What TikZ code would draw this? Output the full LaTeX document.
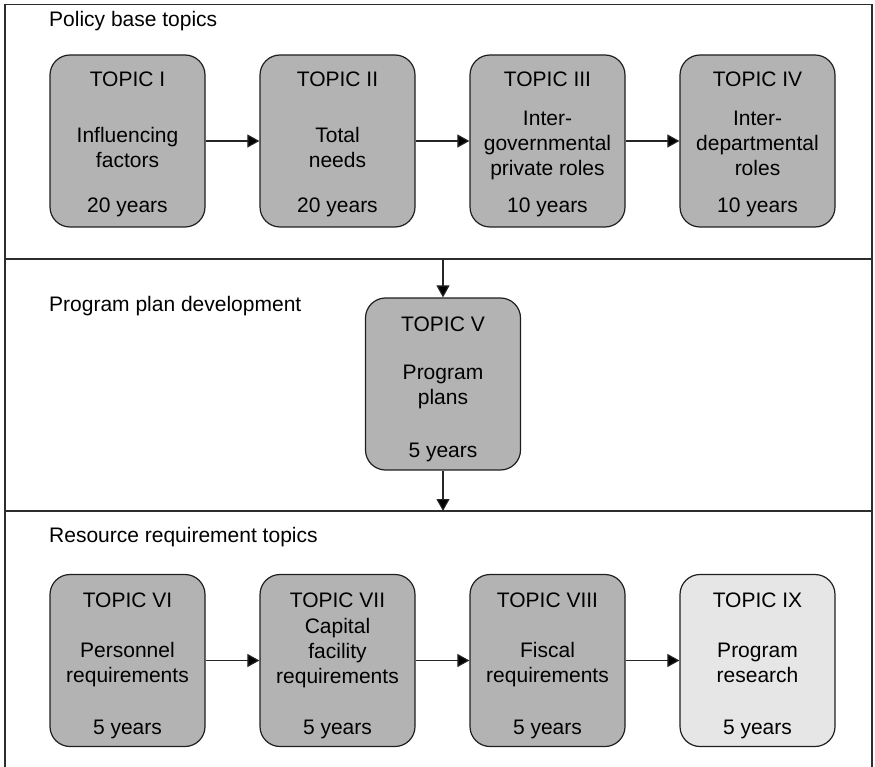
\documentclass[tikz,border=0pt]{standalone}
\usepackage{fontspec}
\setmainfont{Liberation Sans}
\usetikzlibrary{arrows.meta}
\definecolor{boxgray}{RGB}{179,179,179}
\definecolor{lightgray}{RGB}{230,230,230}
\definecolor{framec}{RGB}{45,45,45}
\begin{document}
\begin{tikzpicture}[x=1pt,y=-1pt,
  topicbox/.style={draw=black!88,line width=1.2pt,fill=boxgray,rounded corners=20pt,minimum width=155pt,minimum height=172pt,inner sep=0pt},
  ltopicbox/.style={topicbox,fill=lightgray},
  txt/.style={font=\fontsize{21}{25}\selectfont,inner sep=0pt,align=center},
  conn/.style={line width=1.1pt,draw=black!85,-{Triangle[length=12pt,width=13pt,fill=black]}},
  frameline/.style={draw=framec,line width=1.5pt}
]
\useasboundingbox (0,0) rectangle (875,767);
% frame
\draw[frameline] (5,767) -- (5,4.5) -- (872,4.5) -- (872,767);
\draw[frameline] (5,259) -- (872,259);
\draw[frameline] (5,511) -- (872,511);
% section labels
\node[txt,anchor=base west] (l1) at (49,27) {Policy base topics};
\node[txt,anchor=base west] (l2) at (49,312) {Program plan development};
\node[txt,anchor=base west] (l3) at (49,542) {Resource requirement topics};
% top row
\node[topicbox] (b1) at (127.5,141) {};
\node[txt,anchor=base] (b1t) at (127.5,87) {TOPIC I};
\node[txt] (b1m) at (127.5,147) {Influencing\\factors};
\node[txt,anchor=base] (b1y) at (127.5,213) {20 years};
\node[topicbox] (b2) at (337.5,141) {};
\node[txt,anchor=base] (b2t) at (337.5,87) {TOPIC II};
\node[txt] (b2m) at (337.5,147) {Total\\needs};
\node[txt,anchor=base] (b2y) at (337.5,213) {20 years};
\node[topicbox] (b3) at (547.5,141) {};
\node[txt,anchor=base] (b3t) at (547.5,87) {TOPIC III};
\node[txt] (b3m) at (547.5,145) {Inter-\\governmental\\private roles};
\node[txt,anchor=base] (b3y) at (547.5,213) {10 years};
\node[topicbox] (b4) at (757.5,141) {};
\node[txt,anchor=base] (b4t) at (757.5,87) {TOPIC IV};
\node[txt] (b4m) at (757.5,143) {Inter-\\departmental\\roles};
\node[txt,anchor=base] (b4y) at (757.5,213) {10 years};
% middle
\node[topicbox] (b5) at (443,384) {};
\node[txt,anchor=base] (b5t) at (443,331) {TOPIC V};
\node[txt] (b5m) at (443,387) {Program\\plans};
\node[txt,anchor=base] (b5y) at (443,457) {5 years};
% bottom row
\node[topicbox] (b6) at (127.5,660.5) {};
\node[txt,anchor=base] (b6t) at (127.5,607) {TOPIC VI};
\node[txt] (b6m) at (127.5,665) {Personnel\\requirements};
\node[txt,anchor=base] (b6y) at (127.5,734) {5 years};
\node[topicbox] (b7) at (337.5,660.5) {};
\node[txt,anchor=base] (b7t) at (337.5,607) {TOPIC VII};
\node[txt] (b7m) at (337.5,653) {Capital\\facility\\requirements};
\node[txt,anchor=base] (b7y) at (337.5,734) {5 years};
\node[topicbox] (b8) at (547.5,660.5) {};
\node[txt,anchor=base] (b8t) at (547.5,607) {TOPIC VIII};
\node[txt] (b8m) at (547.5,665) {Fiscal\\requirements};
\node[txt,anchor=base] (b8y) at (547.5,734) {5 years};
\node[ltopicbox] (b9) at (757.5,660.5) {};
\node[txt,anchor=base] (b9t) at (757.5,607) {TOPIC IX};
\node[txt] (b9m) at (757.5,663) {Program\\research};
\node[txt,anchor=base] (b9y) at (757.5,734) {5 years};
% connectors
\draw[conn] (b1.east) -- (b2.west);
\draw[conn] (b2.east) -- (b3.west);
\draw[conn] (b3.east) -- (b4.west);
\coordinate (s1) at (443,259);
\coordinate (s2) at (443,511);
\draw[conn] (s1) -- (b5.north);
\draw[conn] (b5.south) -- (s2);
\draw[conn] (b6.east) -- (b7.west);
\draw[conn] (b7.east) -- (b8.west);
\draw[conn] (b8.east) -- (b9.west);
\end{tikzpicture}
\end{document}
